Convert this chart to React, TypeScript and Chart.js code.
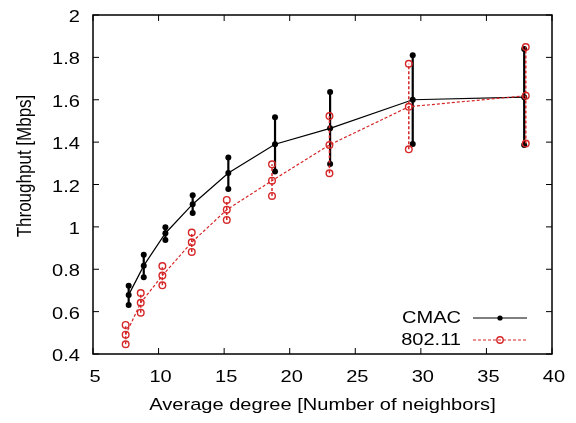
import { useEffect, useRef } from "react";
import { Chart, registerables } from "chart.js";

Chart.register(...registerables);

// CMAC: mean throughput and min/max range per average degree
const cmacDegree = [7.72, 8.87, 10.52, 12.6, 15.32, 18.88, 23.08, 29.38, 37.88];
const cmacMean = [0.679, 0.817, 0.97, 1.107, 1.254, 1.39, 1.465, 1.6, 1.612];
const cmacLow = [0.631, 0.762, 0.938, 1.066, 1.179, 1.261, 1.297, 1.391, 1.387];
const cmacHigh = [0.722, 0.869, 0.998, 1.149, 1.327, 1.517, 1.637, 1.81, 1.84];

// 802.11: mean throughput and min/max range per average degree
const wifiDegree = [7.49, 8.64, 10.29, 12.53, 15.2, 18.65, 23.03, 29.08, 38.0];
const wifiMean = [0.491, 0.642, 0.77, 0.927, 1.081, 1.218, 1.387, 1.567, 1.619];
const wifiLow = [0.446, 0.595, 0.724, 0.882, 1.033, 1.146, 1.253, 1.366, 1.393];
const wifiHigh = [0.537, 0.688, 0.815, 0.973, 1.127, 1.295, 1.523, 1.77, 1.849];

const xTicks = [5, 10, 15, 20, 25, 30, 35, 40];
const xTickLabels = ["5", "10", "15", "20", "25", "30", "35", "40"];
const yTicks = [0.4, 0.6, 0.8, 1, 1.2, 1.4, 1.6, 1.8, 2];
const yTickLabels = ["0.4", "0.6", "0.8", "1", "1.2", "1.4", "1.6", "1.8", "2"];

const xTitle = "Average degree [Number of neighbors]";
const yTitle = "Throughput [Mbps]";
const cmacLabel = "CMAC";
const wifiLabel = "802.11";

const FONT = '17px "Liberation Sans", Arial, sans-serif';
const TEXT_STRETCH = 1.18;
const RED = "#d62728";
const DASH = [3, 2];

const points = (xs: number[], ys: number[]) => xs.map((x, i) => ({ x, y: ys[i] }));

// vertical min-max segments, separated by gaps
const ranges = (xs: number[], lo: number[], hi: number[]) =>
  xs.flatMap((x, i) => [
    { x, y: lo[i] },
    { x, y: hi[i] },
    { x, y: null as unknown as number },
  ]);

function drawText(
  ctx: CanvasRenderingContext2D,
  text: string,
  x: number,
  y: number,
  align: CanvasTextAlign,
  rotate = false
) {
  ctx.save();
  ctx.translate(x, y);
  if (rotate) {
    ctx.rotate(-Math.PI / 2);
    ctx.scale(1, TEXT_STRETCH);
  } else {
    ctx.scale(TEXT_STRETCH, 1);
  }
  ctx.font = FONT;
  ctx.fillStyle = "#000";
  ctx.textAlign = align;
  ctx.textBaseline = "alphabetic";
  ctx.fillText(text, 0, 0);
  ctx.restore();
}

const framePlugin = {
  id: "gnuplotFrame",
  afterDraw(chart: Chart) {
    const { ctx, chartArea: a } = chart;
    const xs = chart.scales.x;
    const ys = chart.scales.y;
    const tick = 6;

    ctx.save();
    ctx.strokeStyle = "#000";
    ctx.lineWidth = 1.5;
    ctx.setLineDash([]);
    ctx.strokeRect(a.left, a.top, a.right - a.left, a.bottom - a.top);

    ctx.lineWidth = 1;
    ctx.beginPath();
    xTicks.forEach((v) => {
      const px = xs.getPixelForValue(v);
      ctx.moveTo(px, a.bottom);
      ctx.lineTo(px, a.bottom - tick);
      ctx.moveTo(px, a.top);
      ctx.lineTo(px, a.top + tick);
    });
    yTicks.forEach((v) => {
      const py = ys.getPixelForValue(v);
      ctx.moveTo(a.left, py);
      ctx.lineTo(a.left + tick, py);
      ctx.moveTo(a.right, py);
      ctx.lineTo(a.right - tick, py);
    });
    ctx.stroke();
    ctx.restore();

    xTicks.forEach((v, i) => {
      drawText(ctx, xTickLabels[i], xs.getPixelForValue(v) + 2, a.bottom + 28, "center");
    });
    yTicks.forEach((v, i) => {
      drawText(ctx, yTickLabels[i], a.left - 13, ys.getPixelForValue(v) + 7, "right");
    });

    drawText(ctx, xTitle, (a.left + a.right) / 2, a.bottom + 56, "center");
    drawText(ctx, yTitle, 31, 166, "center", true);

    // key, lower right inside the plot
    const textRight = a.right - 91;
    const x1 = a.right - 79;
    const x2 = a.right - 25;
    const xm = (x1 + x2) / 2;
    const row1 = a.bottom - 36;
    const row2 = a.bottom - 14;

    drawText(ctx, cmacLabel, textRight, row1 + 5, "right");
    drawText(ctx, wifiLabel, textRight, row2 + 5, "right");

    ctx.save();
    ctx.strokeStyle = "#000";
    ctx.lineWidth = 1.2;
    ctx.beginPath();
    ctx.moveTo(x1, row1);
    ctx.lineTo(x2, row1);
    ctx.stroke();
    ctx.fillStyle = "#000";
    ctx.beginPath();
    ctx.arc(xm, row1, 2.6, 0, Math.PI * 2);
    ctx.fill();

    ctx.strokeStyle = RED;
    ctx.setLineDash(DASH);
    ctx.beginPath();
    ctx.moveTo(x1, row2);
    ctx.lineTo(x2, row2);
    ctx.stroke();
    ctx.setLineDash([]);
    ctx.lineWidth = 1.4;
    ctx.beginPath();
    ctx.arc(xm, row2, 3.2, 0, Math.PI * 2);
    ctx.stroke();
    ctx.restore();
  },
};

export default function App() {
  const canvasRef = useRef<HTMLCanvasElement | null>(null);

  useEffect(() => {
    const canvas = canvasRef.current;
    if (!canvas) return;

    const chart = new Chart(canvas, {
      type: "scatter",
      data: {
        datasets: [
          {
            label: wifiLabel,
            data: points(wifiDegree, wifiMean),
            showLine: true,
            borderColor: RED,
            borderWidth: 1.2,
            borderDash: DASH,
            pointStyle: "circle",
            pointRadius: 3.3,
            pointBorderWidth: 1.4,
            pointBorderColor: RED,
            pointBackgroundColor: "rgba(0,0,0,0)",
          },
          {
            label: wifiLabel + " range",
            data: ranges(wifiDegree, wifiLow, wifiHigh),
            showLine: true,
            spanGaps: false,
            borderColor: RED,
            borderWidth: 1.5,
            borderDash: DASH,
            pointStyle: "circle",
            pointRadius: 3.3,
            pointBorderWidth: 1.4,
            pointBorderColor: RED,
            pointBackgroundColor: "rgba(0,0,0,0)",
          },
          {
            label: cmacLabel,
            data: points(cmacDegree, cmacMean),
            showLine: true,
            borderColor: "#000",
            borderWidth: 1.2,
            pointRadius: 3,
            pointBorderWidth: 0,
            pointBackgroundColor: "#000",
          },
          {
            label: cmacLabel + " range",
            data: ranges(cmacDegree, cmacLow, cmacHigh),
            showLine: true,
            spanGaps: false,
            borderColor: "#000",
            borderWidth: 2.2,
            pointRadius: 3,
            pointBorderWidth: 0,
            pointBackgroundColor: "#000",
          },
        ],
      },
      options: {
        responsive: false,
        animation: false,
        devicePixelRatio: 1,
        layout: { padding: { left: 93, right: 24, top: 15, bottom: 69 } },
        plugins: {
          legend: { display: false },
          tooltip: { enabled: false },
        },
        scales: {
          x: { type: "linear", min: 5, max: 40, display: false },
          y: { type: "linear", min: 0.4, max: 2, display: false },
        },
      },
      plugins: [framePlugin],
    });

    return () => chart.destroy();
  }, []);

  return (
    <div
      style={{
        position: "fixed",
        left: 0,
        top: 0,
        width: 576,
        height: 423,
        background: "#fff",
      }}
    >
      <canvas ref={canvasRef} width={576} height={423} />
    </div>
  );
}
